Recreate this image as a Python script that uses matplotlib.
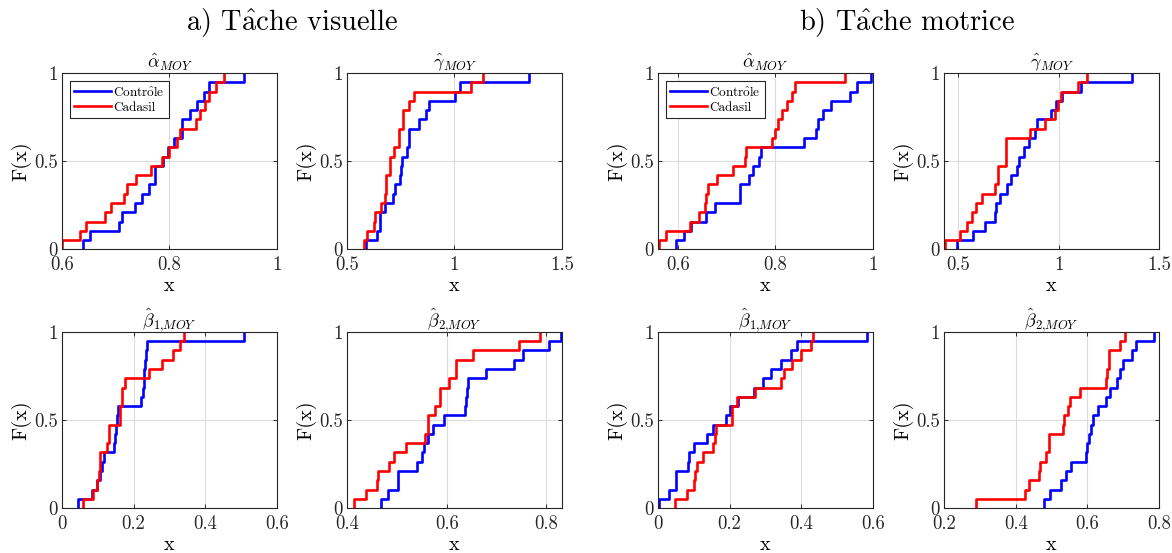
import numpy as np
import matplotlib
matplotlib.use('Agg')
import matplotlib.pyplot as plt

plt.rcParams['font.family'] = ['cmr10', 'DejaVu Serif']
plt.rcParams['mathtext.fontset'] = 'cm'
plt.rcParams['axes.unicode_minus'] = False

# a) visual task
vis_alpha_ctrl = [0.639, 0.653, 0.706, 0.711, 0.736, 0.748, 0.761, 0.774, 0.774, 0.788,
                  0.798, 0.808, 0.823, 0.823, 0.839, 0.852, 0.865, 0.874, 0.938]
vis_alpha_cad = [0.600, 0.633, 0.644, 0.680, 0.691, 0.716, 0.721, 0.737, 0.765, 0.786,
                 0.799, 0.814, 0.820, 0.850, 0.857, 0.866, 0.873, 0.887, 0.902]
vis_gamma_ctrl = [0.587, 0.640, 0.652, 0.652, 0.675, 0.714, 0.722, 0.745, 0.753, 0.758,
                  0.781, 0.787, 0.787, 0.835, 0.870, 0.882, 1.002, 1.028, 1.348]
vis_gamma_cad = [0.578, 0.593, 0.624, 0.630, 0.660, 0.675, 0.683, 0.683, 0.699, 0.699,
                 0.719, 0.741, 0.741, 0.761, 0.761, 0.787, 0.811, 1.075, 1.134]
vis_beta1_ctrl = [0.044, 0.084, 0.098, 0.105, 0.112, 0.116, 0.146, 0.148, 0.151, 0.153,
                  0.156, 0.221, 0.225, 0.228, 0.230, 0.233, 0.235, 0.237, 0.507]
vis_beta1_cad = [0.060, 0.087, 0.098, 0.102, 0.107, 0.107, 0.126, 0.130, 0.130, 0.163,
                 0.163, 0.167, 0.167, 0.177, 0.242, 0.279, 0.310, 0.328, 0.340]
vis_beta2_ctrl = [0.469, 0.482, 0.502, 0.502, 0.540, 0.551, 0.555, 0.562, 0.572, 0.595,
                  0.637, 0.638, 0.640, 0.642, 0.679, 0.735, 0.754, 0.805, 0.830]
vis_beta2_cad = [0.415, 0.439, 0.460, 0.462, 0.484, 0.495, 0.519, 0.557, 0.562, 0.563,
                 0.577, 0.587, 0.587, 0.604, 0.619, 0.619, 0.652, 0.745, 0.787]

# b) motor task
mot_alpha_ctrl = [0.595, 0.612, 0.627, 0.657, 0.676, 0.727, 0.727, 0.746, 0.754, 0.766,
                  0.771, 0.858, 0.883, 0.888, 0.897, 0.913, 0.953, 0.968, 0.997]
mot_alpha_cad = [0.561, 0.576, 0.624, 0.643, 0.655, 0.658, 0.662, 0.680, 0.713, 0.737,
                 0.739, 0.792, 0.799, 0.805, 0.814, 0.824, 0.833, 0.840, 0.942]
mot_gamma_ctrl = [0.495, 0.573, 0.632, 0.682, 0.690, 0.710, 0.743, 0.765, 0.793, 0.801,
                  0.826, 0.851, 0.881, 0.892, 0.964, 0.987, 1.017, 1.113, 1.364]
mot_gamma_cad = [0.434, 0.507, 0.541, 0.566, 0.589, 0.616, 0.685, 0.699, 0.699, 0.738,
                 0.738, 0.738, 0.859, 0.934, 0.980, 0.997, 1.013, 1.096, 1.141]
mot_beta1_ctrl = [0.004, 0.032, 0.050, 0.050, 0.084, 0.087, 0.100, 0.137, 0.153, 0.190,
                  0.202, 0.223, 0.268, 0.294, 0.316, 0.344, 0.372, 0.388, 0.583]
mot_beta1_cad = [0.048, 0.081, 0.100, 0.104, 0.109, 0.125, 0.153, 0.158, 0.162, 0.207,
                 0.208, 0.220, 0.272, 0.344, 0.353, 0.374, 0.400, 0.428, 0.432]
mot_beta2_ctrl = [0.480, 0.496, 0.527, 0.540, 0.555, 0.595, 0.600, 0.605, 0.609, 0.617,
                  0.631, 0.651, 0.663, 0.684, 0.691, 0.700, 0.725, 0.737, 0.786]
mot_beta2_cad = [0.290, 0.427, 0.436, 0.466, 0.469, 0.484, 0.492, 0.492, 0.533, 0.536,
                 0.545, 0.552, 0.580, 0.651, 0.656, 0.660, 0.660, 0.691, 0.706]

titles = [r'$\hat{\alpha}_{MOY}$', r'$\hat{\gamma}_{MOY}$',
          r'$\hat{\beta}_{1{,}MOY}$', r'$\hat{\beta}_{2{,}MOY}$']

panels = [
    # (ctrl, cad, xlim, xticks, xticklabels, legend)
    (vis_alpha_ctrl, vis_alpha_cad, (0.6, 1.0), [0.6, 0.8, 1.0], ['0.6', '0.8', '1'], True),
    (vis_gamma_ctrl, vis_gamma_cad, (0.5, 1.5), [0.5, 1.0, 1.5], ['0.5', '1', '1.5'], False),
    (mot_alpha_ctrl, mot_alpha_cad, (0.559, 1.0), [0.6, 0.8, 1.0], ['0.6', '0.8', '1'], True),
    (mot_gamma_ctrl, mot_gamma_cad, (0.429, 1.5), [0.5, 1.0, 1.5], ['0.5', '1', '1.5'], False),
    (vis_beta1_ctrl, vis_beta1_cad, (0.0, 0.6), [0, 0.2, 0.4, 0.6], ['0', '0.2', '0.4', '0.6'], False),
    (vis_beta2_ctrl, vis_beta2_cad, (0.4, 0.831), [0.4, 0.6, 0.8], ['0.4', '0.6', '0.8'], False),
    (mot_beta1_ctrl, mot_beta1_cad, (0.0, 0.6), [0, 0.2, 0.4, 0.6], ['0', '0.2', '0.4', '0.6'], False),
    (mot_beta2_ctrl, mot_beta2_cad, (0.2, 0.8), [0.2, 0.4, 0.6, 0.8], ['0.2', '0.4', '0.6', '0.8'], False),
]
panel_titles = [titles[0], titles[1], titles[0], titles[1],
                titles[2], titles[3], titles[2], titles[3]]

lefts = [0.0529, 0.296, 0.5614, 0.8055]
bottoms = [0.549, 0.081]
w, h = 0.1834, 0.319


def ecdf_xy(vals):
    v = np.sort(np.asarray(vals))
    n = len(v)
    xs = np.concatenate([[v[0]], v])
    ys = np.concatenate([[0.0], np.arange(1, n + 1) / n])
    return xs, ys


fig = plt.figure(figsize=(11.72, 5.53), dpi=100)

for i, (ctrl, cad, xl, xt, xtl, leg) in enumerate(panels):
    r, c = divmod(i, 4)
    ax = fig.add_axes([lefts[c], bottoms[r], w, h])
    xs, ys = ecdf_xy(ctrl)
    ax.plot(xs, ys, drawstyle='steps-post', color='#0000ff', lw=1.9, label='Contr$\\hat{\\mathrm{o}}$le')
    xs, ys = ecdf_xy(cad)
    ax.plot(xs, ys, drawstyle='steps-post', color='#ff0000', lw=1.9, label='Cadasil')
    ax.set_xlim(xl)
    ax.set_ylim(0, 1)
    ax.set_xticks(xt)
    ax.set_xticklabels(xtl)
    ax.set_yticks([0, 0.5, 1])
    ax.set_yticklabels(['0', '0.5', '1'])
    ax.grid(True, color='#dcdcdc', lw=0.8)
    ax.set_axisbelow(True)
    ax.tick_params(direction='in', top=True, right=True, length=3, width=0.7,
                   labelsize=13.5, colors='#262626')
    ax.tick_params(axis='x', pad=5)
    ax.tick_params(axis='y', pad=3)
    for s in ax.spines.values():
        s.set_color('#262626')
        s.set_linewidth(0.8)
    ax.set_title(panel_titles[i], fontsize=13, pad=4)
    ax.set_xlabel('x', fontsize=14.5, labelpad=2)
    ax.set_ylabel('F(x)', fontsize=14.5, labelpad=2)
    if leg:
        lg = ax.legend(loc='upper left', fontsize=9.5, fancybox=False, framealpha=1,
                       edgecolor='#262626', handlelength=2.8, handletextpad=0.2,
                       borderpad=0.3, labelspacing=0.2, borderaxespad=0.6)
        lg.get_frame().set_linewidth(0.8)

fig.text(0.249, 0.958, 'a) T$\\hat{\\mathrm{a}}$che visuelle', fontsize=20.5, ha='center', va='center')
fig.text(0.774, 0.958, 'b) T$\\hat{\\mathrm{a}}$che motrice', fontsize=20.5, ha='center', va='center')

fig.savefig('out.png', dpi=100)
